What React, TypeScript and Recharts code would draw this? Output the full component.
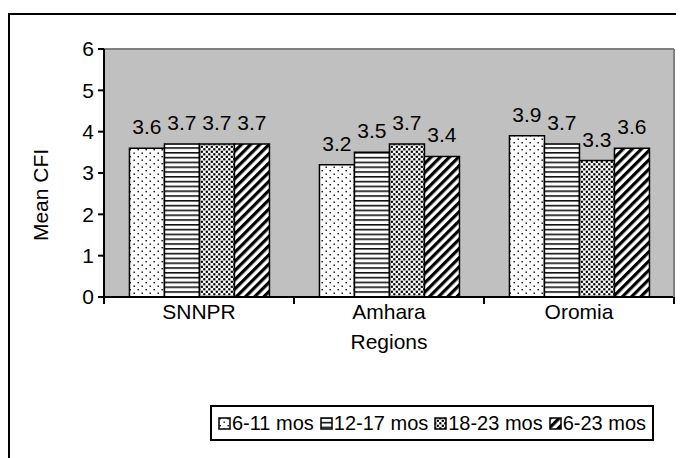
import React from "react";
import {
  BarChart,
  Bar,
  XAxis,
  YAxis,
  CartesianGrid,
  ReferenceLine,
  LabelList,
} from "recharts";

const categories = ["SNNPR", "Amhara", "Oromia"];
const mos6to11 = [3.6, 3.2, 3.9];
const mos12to17 = [3.7, 3.5, 3.7];
const mos18to23 = [3.7, 3.7, 3.3];
const mos6to23 = [3.7, 3.4, 3.6];
const seriesNames = ["6-11 mos", "12-17 mos", "18-23 mos", "6-23 mos"];
const yTicks = [0, 1, 2, 3, 4, 5, 6];

const keys = ["a", "b", "c", "d"];
const data = categories.map((region, i) => ({
  region,
  a: mos6to11[i],
  b: mos12to17[i],
  c: mos18to23[i],
  d: mos6to23[i],
}));

const FONT = "'Liberation Sans', Arial, sans-serif";
const FS = 21;
const W = 676;
const H = 450;
const margin = { top: 41, right: 0, bottom: 81, left: 0 };
const Y_AXIS_W = 96;
const RIGHT_AXIS_W = 10;
const plotW = W - margin.left - margin.right - Y_AXIS_W - RIGHT_AXIS_W;

// fill patterns, one per age group
function Patterns({ prefix }: { prefix: string }) {
  return (
    <defs>
      <pattern id={`${prefix}-dots`} width="8" height="7" patternUnits="userSpaceOnUse">
        <rect width="8" height="7" fill="#fff" />
        <rect x="1.5" y="1" width="1.4" height="1.4" fill="#000" />
        <rect x="5.5" y="4.5" width="1.4" height="1.4" fill="#000" />
      </pattern>
      <pattern id={`${prefix}-hlines`} width="6" height="4.8" patternUnits="userSpaceOnUse">
        <rect width="6" height="4.8" fill="#fff" />
        <rect y="0" width="6" height="1.6" fill="#111" />
      </pattern>
      <pattern id={`${prefix}-dense`} width="5" height="5" patternUnits="userSpaceOnUse">
        <rect width="5" height="5" fill="#fff" />
        <rect x="0.2" y="0.2" width="2.2" height="2.2" fill="#000" />
        <rect x="2.7" y="2.7" width="2.2" height="2.2" fill="#000" />
      </pattern>
      <pattern
        id={`${prefix}-diag`}
        width="6.5"
        height="6.5"
        patternUnits="userSpaceOnUse"
        patternTransform="rotate(45)"
      >
        <rect width="6.5" height="6.5" fill="#fff" />
        <rect width="3.2" height="6.5" fill="#000" />
      </pattern>
    </defs>
  );
}

const fills = ["dots", "hlines", "dense", "diag"];

function RegionTick(props: any) {
  const { x, y, payload, index } = props;
  const band = plotW / categories.length;
  return (
    <g>
      <line x1={x - band / 2} x2={x - band / 2} y1={y} y2={y + 7} stroke="#000" strokeWidth={2} />
      {index === categories.length - 1 && (
        <line x1={x + band / 2} x2={x + band / 2} y1={y} y2={y + 7} stroke="#000" strokeWidth={2} />
      )}
      <text x={x} y={y + 22} textAnchor="middle" fontSize={FS} fontFamily={FONT} fill="#000">
        {payload.value}
      </text>
    </g>
  );
}

function LegendBox() {
  return (
    <div
      style={{
        position: "absolute",
        left: 202,
        top: 397,
        width: 444,
        height: 36,
        border: "2px solid #000",
        background: "#fff",
        display: "flex",
        alignItems: "center",
        justifyContent: "space-evenly",
        fontFamily: FONT,
        fontSize: 20,
        boxSizing: "border-box",
      }}
    >
      {seriesNames.map((name, i) => (
        <span key={name} style={{ display: "inline-flex", alignItems: "center", gap: 1 }}>
          <svg width={13} height={13}>
            <Patterns prefix={`lg${i}`} />
            <rect
              x={1}
              y={1}
              width={11}
              height={11}
              fill={`url(#lg${i}-${fills[i]})`}
              stroke="#000"
              strokeWidth={1.5}
            />
          </svg>
          {name}
        </span>
      ))}
    </div>
  );
}

export default function App() {
  return (
    <div
      style={{
        position: "relative",
        width: W,
        height: H,
        overflow: "hidden",
        background: "#fff",
        fontFamily: FONT,
      }}
    >
      <div
        style={{
          position: "absolute",
          left: 0,
          top: 5,
          width: 720,
          height: 520,
          border: "2px solid #000",
        }}
      />
      <div style={{ position: "absolute", left: 0, top: 0 }}>
        <BarChart
          width={W}
          height={H}
          data={data}
          margin={margin}
          barCategoryGap="13.4%"
          barGap={0}
        >
          <Patterns prefix="bar" />
          <CartesianGrid horizontal={false} vertical={false} fill="#c0c0c0" fillOpacity={1} />
          <ReferenceLine y={6} stroke="#808080" strokeWidth={2} />
          <XAxis
            dataKey="region"
            tick={<RegionTick />}
            tickLine={false}
            tickSize={0}
            tickMargin={0}
            axisLine={{ stroke: "#000", strokeWidth: 2 }}
            height={80}
            interval={0}
            label={(p: any) => {
              const vb = p.viewBox;
              return (
                <text
                  x={vb.x + vb.width / 2}
                  y={vb.y + 52}
                  textAnchor="middle"
                  fontSize={FS}
                  fontFamily={FONT}
                  fill="#000"
                >
                  Regions
                </text>
              );
            }}
          />
          <YAxis
            domain={[0, 6]}
            ticks={yTicks}
            interval={0}
            width={Y_AXIS_W}
            tick={{ fontSize: FS, fill: "#000", fontFamily: FONT }}
            tickSize={6}
            tickMargin={4}
            tickLine={{ stroke: "#000", strokeWidth: 2 }}
            axisLine={{ stroke: "#000", strokeWidth: 2 }}
            label={(p: any) => {
              const vb = p.viewBox;
              const cx = vb.x + 32;
              const cy = vb.y + vb.height / 2 + 22;
              return (
                <text
                  x={cx}
                  y={cy}
                  transform={`rotate(-90, ${cx}, ${cy})`}
                  textAnchor="middle"
                  dominantBaseline="central"
                  fontSize={FS}
                  fontFamily={FONT}
                  fill="#000"
                >
                  Mean CFI
                </text>
              );
            }}
          />
          <YAxis
            yAxisId="right"
            orientation="right"
            domain={[0, 6]}
            width={RIGHT_AXIS_W}
            tick={false}
            tickLine={false}
            axisLine={{ stroke: "#808080", strokeWidth: 2 }}
          />
          {keys.map((k, i) => (
            <Bar
              key={k}
              dataKey={k}
              name={seriesNames[i]}
              fill={`url(#bar-${fills[i]})`}
              stroke="#000"
              strokeWidth={1.5}
              isAnimationActive={false}
            >
              <LabelList
                dataKey={k}
                position="top"
                offset={14}
                fontSize={FS}
                fontFamily={FONT}
                fill="#000"
              />
            </Bar>
          ))}
        </BarChart>
      </div>
      <LegendBox />
    </div>
  );
}
